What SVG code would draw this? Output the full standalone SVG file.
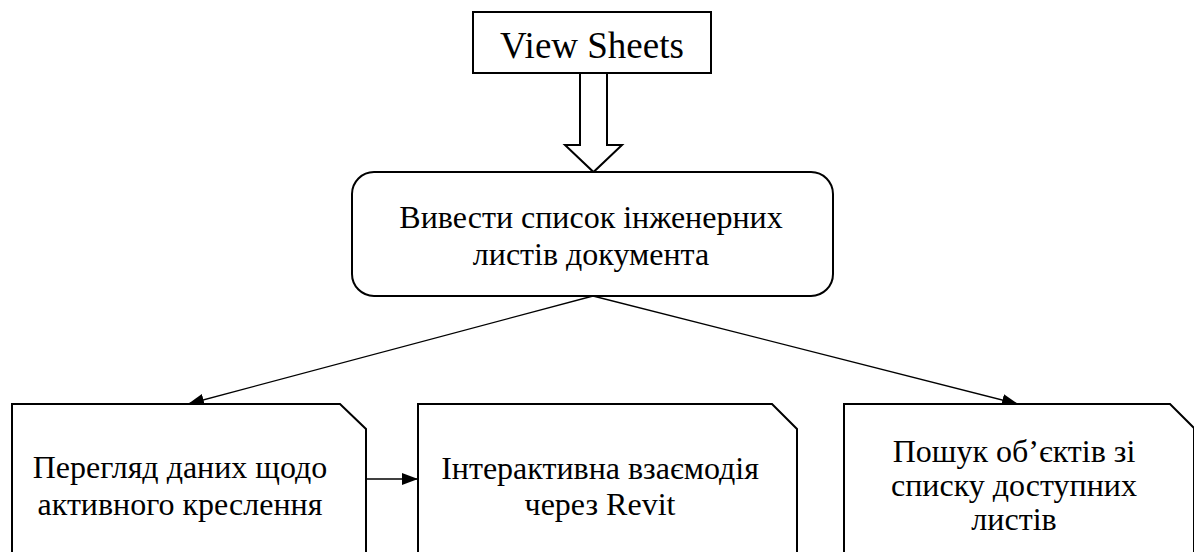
<svg xmlns="http://www.w3.org/2000/svg" width="1194" height="552" viewBox="0 0 1194 552">
  <defs>
    <marker id="arrow" viewBox="0 0 16 12" refX="16" refY="6" markerWidth="16" markerHeight="12" markerUnits="userSpaceOnUse" orient="auto">
      <path d="M0,0 L16,6 L0,12 Z" fill="#000"/>
    </marker>
    <style>
      .box { fill: #fff; stroke: #000; stroke-width: 2; }
      .txt { font-family: 'Liberation Serif', 'DejaVu Serif', serif; font-size: 32px; fill: #000; text-anchor: middle; }
      .title { font-size: 37px; }
      .link { fill: none; stroke: #000; stroke-width: 1.3; marker-end: url(#arrow); }
      .hollow { fill: #fff; stroke: #000; stroke-width: 2; stroke-linejoin: miter; }
    </style>
  </defs>
  <rect width="1194" height="552" fill="#fff"/>

  <g id="connectors">
    <!-- block arrow from the title box down to the main task -->
    <path class="hollow" d="M580,73 L580,145 L565,145 L593.5,172 L622,145 L607,145 L607,73"/>
    <line class="link" x1="593" y1="296" x2="188" y2="404"/>
    <line class="link" x1="593" y1="296" x2="1018" y2="404"/>
    <line class="link" x1="366" y1="479" x2="418" y2="479"/>
  </g>

  <g id="node-view-sheets">
    <rect class="box" x="473" y="12" width="238" height="61"/>
    <text class="txt title" font-family="Liberation Serif" x="592" y="58">View Sheets</text>
  </g>

  <g id="node-list-sheets">
    <rect class="box" x="352" y="172" width="481" height="124" rx="22" ry="22"/>
    <text class="txt" font-family="Liberation Serif" x="591" y="228">Вивести список інженерних</text>
    <text class="txt" font-family="Liberation Serif" x="591" y="265">листів документа</text>
  </g>

  <g id="node-view-data">
    <path class="box" d="M12,560 L12,404 L340,404 L366,429 L366,560"/>
    <text class="txt" font-family="Liberation Serif" x="180" y="478">Перегляд даних щодо</text>
    <text class="txt" font-family="Liberation Serif" x="180" y="515">активного креслення</text>
  </g>

  <g id="node-revit">
    <path class="box" d="M418,560 L418,404 L772,404 L797,429 L797,560"/>
    <text class="txt" font-family="Liberation Serif" x="600" y="479">Інтерактивна взаємодія</text>
    <text class="txt" font-family="Liberation Serif" x="600" y="515">через Revit</text>
  </g>

  <g id="node-search">
    <path class="box" d="M844,560 L844,404 L1170,404 L1194,428 L1194,560"/>
    <text class="txt" font-family="Liberation Serif" x="1014" y="462">Пошук об’єктів зі</text>
    <text class="txt" font-family="Liberation Serif" x="1014" y="496">списку доступних</text>
    <text class="txt" font-family="Liberation Serif" x="1014" y="530">листів</text>
  </g>
</svg>
